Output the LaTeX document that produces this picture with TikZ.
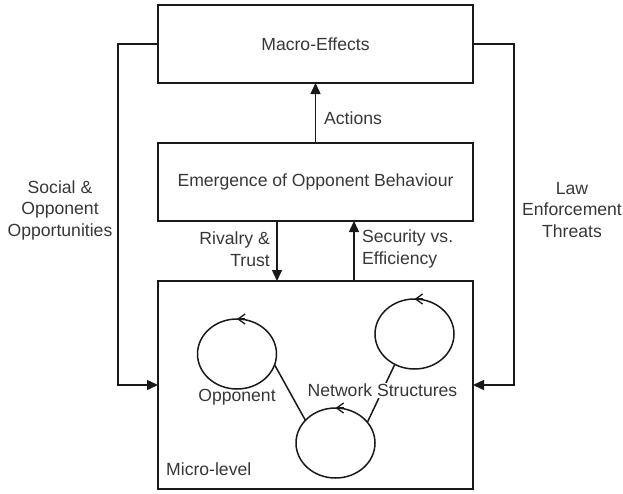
\documentclass[tikz,border=0pt]{standalone}
\usepackage{fontspec}
\setmainfont{Liberation Sans}
\usetikzlibrary{arrows.meta,shapes.geometric}
\definecolor{txt}{RGB}{55,55,55}
\definecolor{ln}{RGB}{25,25,25}
\tikzset{
  box/.style={draw=ln, line width=1.5pt, minimum width=315pt, inner sep=0pt, outer sep=0pt, text=txt},
  arr/.style={draw=ln, line width=1.5pt, -{Triangle[length=11pt,width=10pt]}},
  loopc/.style={ellipse, draw=ln, line width=1.5pt, minimum width=79pt, minimum height=70pt, inner sep=0pt, outer sep=0pt},
  barb/.style={draw=ln, line width=1.3pt, -{Straight Barb[length=7pt,width=10pt]}},
  lbl/.style={text=txt, inner sep=0pt, align=center},
  conn/.style={draw=ln, line width=1.5pt},
}
\begin{document}
\begin{tikzpicture}[x=1pt,y=-1pt]
\fontsize{17.6}{21.5}\selectfont
\useasboundingbox (0,0) rectangle (623,493);
\node[box, minimum height=78pt] (macro) at (315.5,44) {Macro-Effects};
\node[box, minimum height=78pt] (emerg) at (315.5,182) {Emergence of Opponent Behaviour};
\node[box, minimum height=208pt] (micro) at (315.5,385) {};

% Actions
\draw[arr] (emerg.north) -- (macro.south);
\node[lbl, anchor=west] (act) at (324,118) {Actions};

% Rivalry & Trust
\coordinate (rtop) at (277,221);
\coordinate (rbot) at (277,281);
\draw[arr] (rtop) -- (rbot);
\node[lbl, anchor=east, align=right] (riv) at (270,249) {Rivalry \&\\Trust};

% Security vs. Efficiency
\coordinate (sbot) at (354,281);
\coordinate (stop) at (354,221);
\draw[arr] (sbot) -- (stop);
\node[lbl, anchor=west, align=left] (sec) at (362,249) {Security vs.\\Efficiency};

% Feedback loops
\draw[arr] (macro.west) -- ++(-40,0) |- (micro.west);
\draw[arr] (macro.east) -- ++(41,0) |- (micro.east);
\node[lbl] (soc) at (60,210) {Social \&\\Opponent\\Opportunities};
\node[lbl] (law) at (572,210) {Law\\Enforcement\\Threats};

% Micro-level circles
\node[loopc] (c1) at (237,354) {};
\node[loopc] (c2) at (414.5,334) {};
\node[loopc] (c3) at (335.5,443) {};
\draw[barb] ([xshift=8pt]c1.north) -- ([xshift=0pt]c1.north);
\draw[barb] ([xshift=8pt]c2.north) -- ([xshift=0pt]c2.north);
\draw[barb] ([xshift=8pt]c3.north) -- ([xshift=0pt]c3.north);
\draw[conn] (c1.-16) -- (c3.143);
\draw[conn] (c3.33) -- node[fill=white, text=txt, inner sep=1pt, pos=0.55] (ns) {Network Structures} (c2.-123);
\node[lbl] (opp) at (237,397) {Opponent};
\node[lbl, anchor=west] (mic) at (166,469) {Micro-level};
\end{tikzpicture}
\end{document}
